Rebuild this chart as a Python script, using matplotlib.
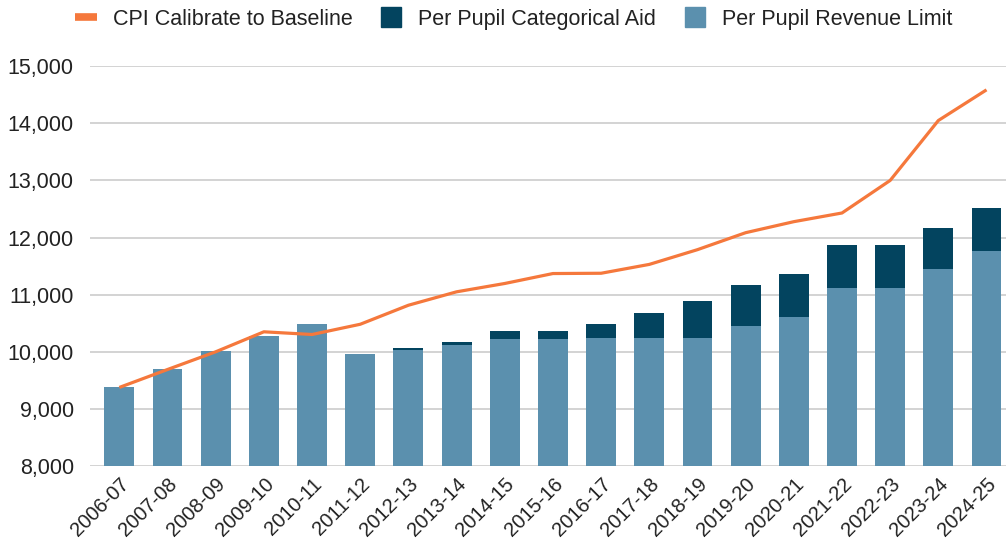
import matplotlib.pyplot as plt
from matplotlib.lines import Line2D
from matplotlib.ticker import FuncFormatter

plt.rcParams['font.family'] = ['Liberation Sans', 'DejaVu Sans']

# school years on the x axis
years = ['2006-07', '2007-08', '2008-09', '2009-10', '2010-11', '2011-12',
         '2012-13', '2013-14', '2014-15', '2015-16', '2016-17', '2017-18',
         '2018-19', '2019-20', '2020-21', '2021-22', '2022-23', '2023-24',
         '2024-25']

# per pupil revenue limit (bottom of the stack)
revenue_limit = [9386, 9700, 10015, 10272, 10482, 9958, 10028, 10115, 10220,
                 10220, 10250, 10250, 10243, 10460, 10610, 11112, 11112,
                 11456, 11771]

# total per pupil (revenue limit + categorical aid)
total = [9386, 9700, 10015, 10272, 10482, 9958, 10075, 10173, 10360, 10360,
         10482, 10675, 10890, 11177, 11362, 11864, 11864, 12173, 12522]

# CPI calibrated to the baseline
cpi = [9376, 9690, 10000, 10350, 10303, 10482, 10815, 11050, 11196, 11370,
       11375, 11530, 11788, 12085, 12278, 12430, 13000, 14049, 14586]

categorical_aid = [t - r for t, r in zip(total, revenue_limit)]

c_rev = '#5b90ae'
c_aid = '#03445f'
c_cpi = '#f5783c'

fig = plt.figure(figsize=(10.07, 5.47), dpi=100)
ax = fig.add_axes([0.0898, 0.148, 0.909, 0.731])

x = range(len(years))
ax.bar(x, [r - 8000 for r in revenue_limit], bottom=8000, width=0.62,
       color=c_rev, zorder=2)
ax.bar(x, categorical_aid, bottom=revenue_limit, width=0.62,
       color=c_aid, zorder=2)
ax.plot(x, cpi, color=c_cpi, lw=2.3, zorder=3, solid_capstyle='butt')

ax.set_xlim(-0.6, 18.4)
ax.set_ylim(8000, 15000)
ax.set_yticks(range(8000, 15001, 1000))
ax.yaxis.set_major_formatter(FuncFormatter(lambda v, p: f'{int(v):,}'))
ax.grid(axis='y', color='#cccccc', lw=1.2, zorder=0)
for s in ax.spines.values():
    s.set_visible(False)
ax.tick_params(length=0, labelsize=14.5, colors='#222222')
ax.tick_params(axis='y', pad=12, labelsize=15.5)
ax.tick_params(axis='x', pad=6)
ax.set_xticks(list(x))
ax.set_xticklabels(years, rotation=45, ha='right', rotation_mode='anchor')

handles = [
    Line2D([], [], color=c_cpi, lw=5.5, solid_capstyle='butt'),
    Line2D([], [], marker='s', ls='', markersize=15, color=c_aid),
    Line2D([], [], marker='s', ls='', markersize=15, color=c_rev),
]
labels = ['CPI Calibrate to Baseline', 'Per Pupil Categorical Aid',
          'Per Pupil Revenue Limit']
fig.legend(handles, labels, loc='center', bbox_to_anchor=(0.51, 0.965),
           ncol=3, frameon=False, fontsize=15.5, handlelength=1.0,
           handletextpad=0.75, columnspacing=1.3, labelcolor='#222222')

fig.savefig('out.png', dpi=100)
